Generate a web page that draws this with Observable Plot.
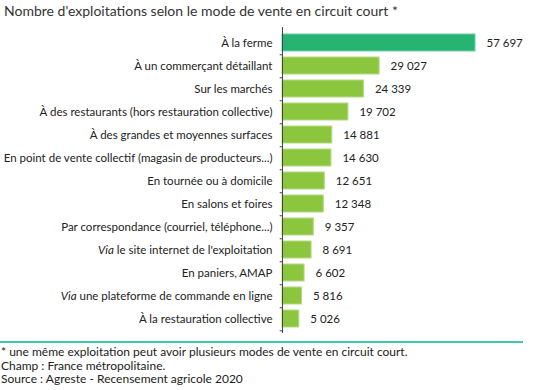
<!DOCTYPE html>
<html><head><meta charset="utf-8">
<script src="https://cdn.jsdelivr.net/npm/d3@7"></script>
<script src="https://cdn.jsdelivr.net/npm/@observablehq/plot@0.6"></script>
<style>
body{margin:0;background:#fff;font-family:Lato,"Open Sans",sans-serif;color:#222;}
#title{font-size:14px;height:24px;line-height:22px;padding-left:4px;color:#333;}
#rule{height:2px;background:#3ccaa8;width:523px;margin-top:1px;}
#foot{font-size:12px;line-height:13.5px;color:#222;padding-left:1px;margin-top:2px;}
</style></head>
<body>
<div id="title">Nombre d'exploitations selon le mode de vente en circuit court *</div>
<div id="chart"></div>
<div id="rule"></div>
<div id="foot">* une même exploitation peut avoir plusieurs modes de vente en circuit court.<br>Champ : France métropolitaine.<br>Source : Agreste - Recensement agricole 2020</div>
<script>
const categories = [
  "À la ferme",
  "À un commerçant détaillant",
  "Sur les marchés",
  "À des restaurants (hors restauration collective)",
  "À des grandes et moyennes surfaces",
  "En point de vente collectif (magasin de producteurs...)",
  "En tournée ou à domicile",
  "En salons et foires",
  "Par correspondance (courriel, téléphone...)",
  "Via le site internet de l'exploitation",
  "En paniers, AMAP",
  "Via une plateforme de commande en ligne",
  "À la restauration collective"
];
const values = [57697, 29027, 24339, 19702, 14881, 14630, 12651, 12348, 9357, 8691, 6602, 5816, 5026];
const highlight = ["À la ferme"];

const data = categories.map((c, i) => ({cat: c, value: values[i], top: highlight.includes(c)}));
const fmt = v => d3.format(",")(v).replace(/,/g, " ");
const step = 23.5;

const chart = Plot.plot({
  width: 539,
  height: 316,
  marginLeft: 282,
  marginRight: 64,
  marginTop: 3,
  marginBottom: 7,
  style: {fontFamily: "Lato, 'Open Sans', sans-serif", fontSize: "11.5px", color: "#222"},
  x: {domain: [0, 57697], axis: null},
  y: {domain: categories, padding: 0.28, label: null, tickSize: 0, tickPadding: 10},
  marks: [
    Plot.barX(data, {y: "cat", x: "value", fill: d => d.top ? "#27b473" : "#8cc63f", stroke: d => d.top ? "#6fd2a3" : "#b5dc82", strokeWidth: 1}),
    Plot.text(data, {y: "cat", x: "value", text: d => fmt(d.value), textAnchor: "start", dx: 11, fill: "#222", fontSize: 11.5}),
    Plot.ruleX([0], {stroke: "#444", strokeWidth: 1}),
    Plot.ruleY(categories, {y: d => d, x1: -700, x2: 0, dy: step / 2, stroke: "#444", strokeWidth: 1})
  ]
});
document.getElementById("chart").appendChild(chart);
chart.querySelectorAll("text").forEach(t => {
  const s = t.textContent;
  if (s.startsWith("Via ") && t.children.length === 0) {
    t.textContent = "";
    const a = document.createElementNS("http://www.w3.org/2000/svg", "tspan");
    a.setAttribute("font-style", "italic");
    a.textContent = "Via";
    const b = document.createElementNS("http://www.w3.org/2000/svg", "tspan");
    b.textContent = s.slice(3);
    t.appendChild(a); t.appendChild(b);
  }
});
</script>
</body></html>
